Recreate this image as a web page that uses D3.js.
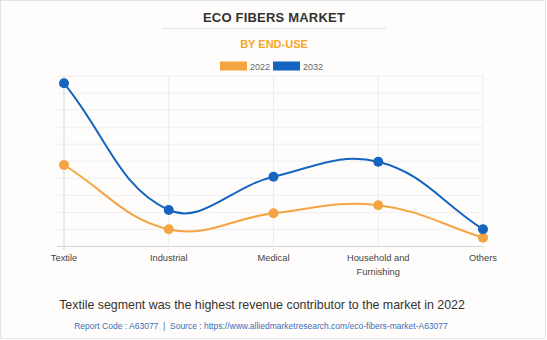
<!DOCTYPE html>
<html>
<head>
<meta charset="utf-8">
<script src="https://cdn.jsdelivr.net/npm/d3@7"></script>
<style>
  body { margin: 0; background: #fff; }
  svg { display: block; font-family: Arial, "Liberation Sans", sans-serif; }
</style>
</head>
<body>
<svg id="js-svg" width="547" height="340"></svg>
<script>
const categories = ["Textile", "Industrial", "Medical", "Household and Furnishing", "Others"];
const labelLines = [["Textile"], ["Industrial"], ["Medical"], ["Household and", "Furnishing"], ["Others"]];
const values2022 = [4.78, 1.01, 1.95, 2.42, 0.52];
const values2032 = [9.57, 2.14, 4.09, 4.97, 1.01];
const seriesNames = ["2022", "2032"];
const seriesColors = ["#f4a443", "#1565c0"];
const yTicks = d3.range(0, 11);

const width = 547, height = 340;
const area = { left: 64, right: 483, top: 76, bottom: 246.5 };

const svg = d3.select("#js-svg");

svg.append("rect")
  .attr("x", 0.5).attr("y", 0.5)
  .attr("width", width - 2).attr("height", height - 2)
  .attr("fill", "#fffdfb")
  .attr("stroke", "#e3e3e3");

// titles
svg.append("text")
  .attr("x", 274).attr("y", 22)
  .attr("text-anchor", "middle")
  .attr("font-size", 13).attr("font-weight", "bold")
  .attr("letter-spacing", 0.2)
  .attr("fill", "#333")
  .text("ECO FIBERS MARKET");

svg.append("line")
  .attr("x1", 162).attr("x2", 386)
  .attr("y1", 28.5).attr("y2", 28.5)
  .attr("stroke", "#e2e2e2");

svg.append("text")
  .attr("x", 274).attr("y", 48)
  .attr("text-anchor", "middle")
  .attr("font-size", 11).attr("font-weight", "bold")
  .attr("fill", "#f5a623")
  .text("BY END-USE");

// legend
const legend = svg.append("g");
const legendX = [220, 273];
seriesNames.forEach((name, i) => {
  legend.append("rect")
    .attr("x", legendX[i]).attr("y", 61.5)
    .attr("width", 27).attr("height", 9)
    .attr("fill", seriesColors[i]);
  legend.append("text")
    .attr("x", legendX[i] + 30).attr("y", 69.5)
    .attr("font-size", 9).attr("fill", "#666")
    .text(name);
});

const x = d3.scalePoint().domain(categories).range([area.left, area.right]);
const y = d3.scaleLinear().domain([0, 10]).range([area.bottom, area.top]);

// grid
const grid = svg.append("g");
grid.selectAll(".hgrid")
  .data(yTicks)
  .join("line")
  .attr("x1", area.left - 7).attr("x2", area.right)
  .attr("y1", d => y(d)).attr("y2", d => y(d))
  .attr("stroke", d => d === 0 ? "#d4d4d4" : "#efefef")
  .attr("stroke-width", d => d === 0 ? 1.2 : 1);

grid.selectAll(".vgrid")
  .data(categories)
  .join("line")
  .attr("x1", d => x(d)).attr("x2", d => x(d))
  .attr("y1", area.top).attr("y2", area.bottom + 4)
  .attr("stroke", (d, i) => i === 0 ? "#d4d4d4" : "#ececec");

// x labels
const xLabels = svg.append("g");
categories.forEach((c, i) => {
  const t = xLabels.append("text")
    .attr("x", x(c)).attr("y", 261)
    .attr("text-anchor", "middle")
    .attr("font-size", 9.3).attr("fill", "#444");
  labelLines[i].forEach((l, j) => {
    t.append("tspan").attr("x", x(c)).attr("dy", j === 0 ? 0 : 13.5).text(l);
  });
});

// chart.js style bezier (tension 0.4)
function splinePath(pts, tension) {
  const cps = pts.map((p, i) => {
    const prev = pts[i - 1] || p, next = pts[i + 1] || p;
    const d01 = Math.hypot(p[0] - prev[0], p[1] - prev[1]);
    const d12 = Math.hypot(next[0] - p[0], next[1] - p[1]);
    let s01 = d01 / (d01 + d12), s12 = d12 / (d01 + d12);
    s01 = isNaN(s01) ? 0 : s01; s12 = isNaN(s12) ? 0 : s12;
    const fa = tension * s01, fb = tension * s12;
    const clampY = v => Math.max(area.top, Math.min(area.bottom, v));
    return {
      prev: [p[0] - fa * (next[0] - prev[0]), clampY(p[1] - fa * (next[1] - prev[1]))],
      next: [p[0] + fb * (next[0] - prev[0]), clampY(p[1] + fb * (next[1] - prev[1]))]
    };
  });
  const path = d3.path();
  path.moveTo(pts[0][0], pts[0][1]);
  for (let i = 1; i < pts.length; i++) {
    const a = cps[i - 1].next, b = cps[i].prev;
    path.bezierCurveTo(a[0], a[1], b[0], b[1], pts[i][0], pts[i][1]);
  }
  return path.toString();
}

[values2022, values2032].forEach((vals, si) => {
  const pts = vals.map((v, i) => [x(categories[i]), y(v)]);
  svg.append("path")
    .attr("d", splinePath(pts, 0.4))
    .attr("fill", "none")
    .attr("stroke", seriesColors[si])
    .attr("stroke-width", 2);
});

[values2022, values2032].forEach((vals, si) => {
  svg.append("g").selectAll("circle")
    .data(vals)
    .join("circle")
    .attr("cx", (d, i) => x(categories[i]))
    .attr("cy", d => y(d))
    .attr("r", 5)
    .attr("fill", seriesColors[si]);
});

// footer
svg.append("text")
  .attr("x", 262).attr("y", 309)
  .attr("text-anchor", "middle")
  .attr("font-size", 12.4).attr("fill", "#333")
  .text("Textile segment was the highest revenue contributor to the market in 2022");

svg.append("text")
  .attr("x", 261).attr("y", 329)
  .attr("text-anchor", "middle")
  .attr("font-size", 8.5).attr("fill", "#3d6db5")
  .attr("xml:space", "preserve")
  .style("white-space", "pre")
  .text("Report Code : A63077  |  Source : https://www.alliedmarketresearch.com/eco-fibers-market-A63077");
</script>
</body>
</html>
